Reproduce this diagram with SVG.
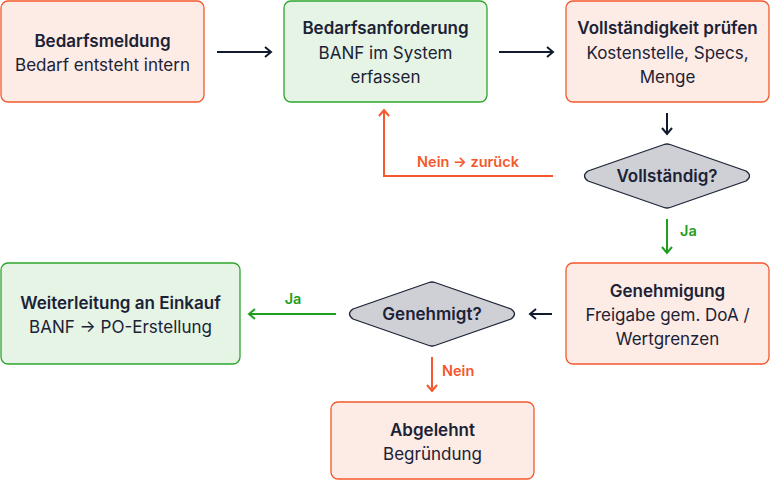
<svg xmlns="http://www.w3.org/2000/svg" width="770" height="480" viewBox="0 0 770 480">
<defs>
<style>
.box-o{fill:#fdebe5;stroke:#f4582c;stroke-width:1.3}
.box-g{fill:#e6f4e5;stroke:#2ea52e;stroke-width:1.3}
.dia{fill:#cfd0d6;stroke:#1c2538;stroke-width:1.3}
.t{font-family:Inter,"Liberation Sans",sans-serif;font-size:17px;fill:#1b2236;text-anchor:middle}
.b{font-weight:600}
.ln{fill:none;stroke-width:2}
.dk{stroke:#111a2e}
.or{stroke:#f4582c}
.gr{stroke:#1f9e1f}
.lo{font-family:Inter,"Liberation Sans",sans-serif;font-size:14.5px;font-weight:600;fill:#f4582c}
.lg{font-family:Inter,"Liberation Sans",sans-serif;font-size:14.5px;font-weight:600;fill:#1f9e1f}
</style>
<marker id="mk" viewBox="0 0 10 12" refX="8" refY="6" markerWidth="10" markerHeight="12" markerUnits="userSpaceOnUse" orient="auto"><path d="M2,1 L8,6 L2,11" fill="none" stroke="#111a2e" stroke-width="2"/></marker>
<marker id="mo" viewBox="0 0 10 12" refX="8" refY="6" markerWidth="10" markerHeight="12" markerUnits="userSpaceOnUse" orient="auto"><path d="M2,1 L8,6 L2,11" fill="none" stroke="#f4582c" stroke-width="2"/></marker>
<marker id="mg" viewBox="0 0 10 12" refX="8" refY="6" markerWidth="10" markerHeight="12" markerUnits="userSpaceOnUse" orient="auto"><path d="M2,1 L8,6 L2,11" fill="none" stroke="#1f9e1f" stroke-width="2"/></marker>
</defs>
<rect width="770" height="480" fill="#ffffff"/>
<g id="connectors">
<path class="ln dk" d="M217,52 H271" marker-end="url(#mk)"/>
<path class="ln dk" d="M499,52 H553" marker-end="url(#mk)"/>
<path class="ln dk" d="M667,113 V134" marker-end="url(#mk)"/>
<path class="ln or" d="M553,176 H384 V110" marker-end="url(#mo)"/>
<text class="lo" x="468" y="167" text-anchor="middle">Nein → zurück</text>
<path class="ln gr" d="M667,219 V253" marker-end="url(#mg)"/>
<text class="lg" x="680" y="236">Ja</text>
<path class="ln dk" d="M552,314 H530" marker-end="url(#mk)"/>
<path class="ln gr" d="M336,314 H249" marker-end="url(#mg)"/>
<text class="lg" x="293" y="304" text-anchor="middle">Ja</text>
<path class="ln or" d="M432,357 V391" marker-end="url(#mo)"/>
<text class="lo" x="442" y="376">Nein</text>
</g>
<g id="bedarfsmeldung">
<rect class="box-o" x="1" y="1" width="203" height="101" rx="7"/>
<text class="t b" x="102.5" y="47">Bedarfsmeldung</text>
<text class="t" x="102.5" y="71">Bedarf entsteht intern</text>
</g>
<g id="bedarfsanforderung">
<rect class="box-g" x="284" y="1" width="203" height="101" rx="7"/>
<text class="t b" x="385.5" y="34">Bedarfsanforderung</text>
<text class="t" x="385.5" y="59">BANF im System</text>
<text class="t" x="385.5" y="83">erfassen</text>
</g>
<g id="vollstaendigkeit">
<rect class="box-o" x="566" y="1" width="203" height="101" rx="7"/>
<text class="t b" x="667.5" y="34">Vollständigkeit prüfen</text>
<text class="t" x="667.5" y="59">Kostenstelle, Specs,</text>
<text class="t" x="667.5" y="83">Menge</text>
</g>
<g id="vollstaendig-decision">
<path class="dia" d="M664,144.5 Q667,143.5 670,144.5 L746,171 Q753,176 746,181 L670,207.5 Q667,208.5 664,207.5 L588,181 Q581,176 588,171 Z"/>
<text class="t b" x="667" y="182">Vollständig?</text>
</g>
<g id="genehmigung">
<rect class="box-o" x="566" y="263" width="203" height="101" rx="7"/>
<text class="t b" x="667.5" y="297">Genehmigung</text>
<text class="t" x="667.5" y="321">Freigabe gem. DoA /</text>
<text class="t" x="667.5" y="345">Wertgrenzen</text>
</g>
<g id="genehmigt-decision">
<path class="dia" d="M429,282.5 Q432,281.5 435,282.5 L511,309 Q518,314 511,319 L435,345.5 Q432,346.5 429,345.5 L353,319 Q346,314 353,309 Z"/>
<text class="t b" x="432" y="320">Genehmigt?</text>
</g>
<g id="weiterleitung">
<rect class="box-g" x="1" y="263" width="239" height="101" rx="7"/>
<text class="t b" x="120.5" y="309">Weiterleitung an Einkauf</text>
<text class="t" x="120.5" y="333">BANF → PO-Erstellung</text>
</g>
<g id="abgelehnt">
<rect class="box-o" x="331" y="402" width="203" height="77" rx="7"/>
<text class="t b" x="432.5" y="436">Abgelehnt</text>
<text class="t" x="432.5" y="460">Begründung</text>
</g>
</svg>
